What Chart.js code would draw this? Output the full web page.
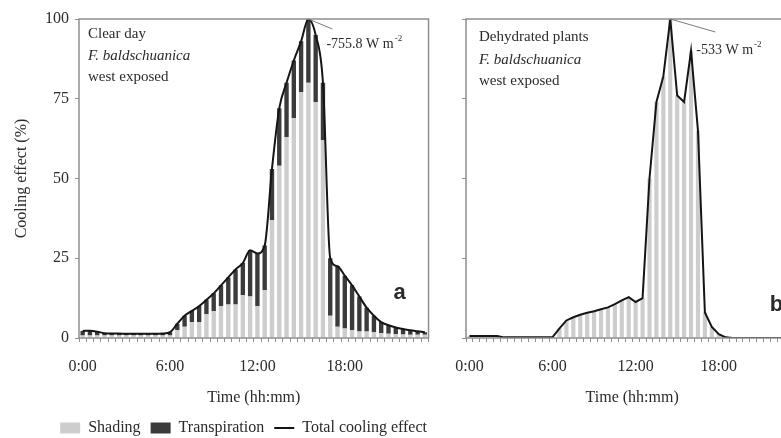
<!DOCTYPE html>
<html>
<head>
<meta charset="utf-8">
<title>Cooling effect</title>
<script src="https://cdn.jsdelivr.net/npm/chart.js@4.4.1/dist/chart.umd.min.js"></script>
<style>
  html, body { margin: 0; padding: 0; background: #fff; }
  #wrap { position: relative; width: 781px; height: 438px; overflow: hidden; }
  canvas { position: absolute; top: 0; }
  #panelA { left: 0; }
  #panelB { left: 440px; }
</style>
</head>
<body>
<div id="wrap">
  <canvas id="panelA" width="440" height="438"></canvas>
  <canvas id="panelB" width="370" height="438"></canvas>
</div>
<script>
// half-hour slots over one day
const timeSlots = [
    '0:00', '0:30', '1:00', '1:30', '2:00', '2:30', '3:00', '3:30', '4:00', '4:30', '5:00', '5:30',
    '6:00', '6:30', '7:00', '7:30', '8:00', '8:30', '9:00', '9:30', '10:00', '10:30', '11:00', '11:30',
    '12:00', '12:30', '13:00', '13:30', '14:00', '14:30', '15:00', '15:30', '16:00', '16:30', '17:00', '17:30',
    '18:00', '18:30', '19:00', '19:30', '20:00', '20:30', '21:00', '21:30', '22:00', '22:30', '23:00', '23:30',
];
const shownTimes = ['0:00', '6:00', '12:00', '18:00'];
const yTicks = [0, 25, 50, 75, 100];

// (a) clear day, values in % of the peak
const clearShading = [
    0.8, 0.8, 0.8, 0.8, 0.8, 0.8, 0.8, 0.8, 0.8, 0.8, 0.8, 0.8, 0.8,
    2.5, 3.5, 5, 5, 7.5, 8.5, 10, 10.5, 10.5, 13.5,
    13, 10, 15, 37, 54, 63, 69, 77, 80, 74,
    62, 7, 3.5, 3, 2.5, 2, 2, 1.8, 1.5, 1.3,
    1.2, 1.1, 1, 1, 1,
];
const clearTranspiration = [
    1.4, 1.5, 1.2, 0.7, 0.6, 0.6, 0.5, 0.5, 0.5, 0.5, 0.5, 0.6, 1.0,
    2.0, 3.5, 3.5, 5, 4.5, 5.5, 6.5, 8.5, 11, 10,
    14.5, 16.5, 14, 16, 18, 17, 18, 16, 20, 21,
    18, 18, 19, 16.5, 14, 11, 7.5, 5.2, 3.5, 2.7,
    2.1, 1.7, 1.4, 1.1, 0.8,
];
const clearTotal = [
    2.2, 2.3, 2.0, 1.5, 1.4, 1.4, 1.3, 1.3, 1.3, 1.3, 1.3, 1.4, 1.8,
    4.5, 7, 8.5, 10, 12, 14, 16.5, 19, 21.5, 23.5,
    27.5, 26.5, 29, 53, 72, 80, 87, 93, 100, 95,
    80, 25, 22.5, 19.5, 16.5, 13, 9.5, 7, 5, 4,
    3.3, 2.8, 2.4, 2.1, 1.8,
];

// (b) dehydrated plants: shading only
const dehydratedTotal = [
    0.6, 0.6, 0.6, 0.6, 0.6, 0.2, 0.2, 0.2, 0.2, 0.2, 0.2, 0.2, 0.3,
    3, 5.5, 6.5, 7.3, 7.9, 8.4, 9, 9.6, 10.6, 11.8,
    12.8, 11.3, 12.5, 50, 74, 82, 100, 76, 74, 90,
    65, 8, 3.5, 1.2, 0.2, 0, 0, 0, 0, 0,
    0, 0, 0, 0, 0,
];

const serif = '"Liberation Serif", "Times New Roman", serif';
const inkColor = '#2b2b2b';
const frameColor = '#8e8e8e';
const shadingColor = '#cdcdcd';
const transpirationColor = '#3b3b3b';

const framePlugin = {
    id: 'panelFrame',
    afterDraw(chart) {
        const { ctx, chartArea } = chart;
        ctx.save();
        ctx.strokeStyle = frameColor;
        ctx.lineWidth = 1.5;
        ctx.strokeRect(chartArea.left, chartArea.top, chartArea.right - chartArea.left, chartArea.bottom - chartArea.top);
        ctx.restore();
    },
};

// keeps the legend strip short so the plot area lines up with panel b
const legendHeight = {
    id: 'legendHeight',
    beforeInit(chart) {
        const fit = chart.legend.fit;
        chart.legend.fit = function fitShort() {
            fit.call(this);
            this.height = 28;
        };
    },
};

const notesPlugin = {
    id: 'panelNotes',
    afterDraw(chart, args, opts) {
        const { ctx, chartArea, scales } = chart;
        ctx.save();
        ctx.fillStyle = inkColor;
        ctx.textBaseline = 'middle';
        ctx.textAlign = 'left';
        opts.lines.forEach((line, i) => {
            ctx.font = `${line.italic ? 'italic ' : ''}15px ${serif}`;
            ctx.fillText(line.text, chartArea.left + opts.indent, opts.rows[i]);
        });

        // leader from the peak of the total line to its label
        const values = chart.data.datasets[opts.peakDataset].data;
        const peakIndex = values.indexOf(Math.max(...values));
        const px = scales.x.getPixelForValue(peakIndex);
        const py = scales.y.getPixelForValue(values[peakIndex]);
        ctx.strokeStyle = '#7a7a7a';
        ctx.lineWidth = 1;
        ctx.beginPath();
        ctx.moveTo(px, py);
        ctx.lineTo(px + opts.leader[0], py + opts.leader[1]);
        ctx.stroke();

        ctx.font = `14px ${serif}`;
        const tx = px + opts.labelOffset[0];
        ctx.fillText(opts.peakText, tx, opts.labelOffset[1]);
        const w = ctx.measureText(opts.peakText).width;
        ctx.font = `9px ${serif}`;
        ctx.fillText('-2', tx + w + 1, opts.labelOffset[1] - 5);

        ctx.font = 'bold 22px "Liberation Sans", Arial, sans-serif';
        ctx.textAlign = 'center';
        ctx.fillText(opts.letter, chartArea.right + opts.letterPos[0], opts.letterPos[1]);
        ctx.restore();
    },
};

function xAxis(height, titleBottom) {
    return {
        stacked: true,
        grid: { drawOnChartArea: false, tickLength: 4, color: frameColor },
        border: { display: false },
        ticks: {
            autoSkip: false,
            maxRotation: 0,
            padding: 15,
            color: inkColor,
            font: { family: serif, size: 16 },
            callback(value) {
                const label = this.getLabelForValue(value);
                return shownTimes.includes(label) ? label : '';
            },
        },
        title: {
            display: true,
            text: 'Time (hh:mm)',
            color: inkColor,
            font: { family: serif, size: 16 },
            padding: { top: 0, bottom: titleBottom },
        },
        afterFit(scale) {
            scale.height = height;
        },
    };
}

function yAxis(width, withLabels) {
    return {
        stacked: true,
        min: 0,
        max: 100,
        afterBuildTicks(scale) {
            scale.ticks = yTicks.map((v) => ({ value: v }));
        },
        grid: { drawOnChartArea: false, tickLength: 4, color: frameColor },
        border: { display: false },
        ticks: {
            display: withLabels,
            padding: 6,
            color: inkColor,
            font: { family: serif, size: 16 },
        },
        title: {
            display: withLabels,
            text: 'Cooling effect (%)',
            color: inkColor,
            font: { family: serif, size: 16 },
            padding: { top: 12, bottom: 0 },
        },
        afterFit(scale) {
            scale.width = width;
        },
    };
}

const barStyle = {
    barPercentage: 0.6,
    categoryPercentage: 1,
    borderWidth: 0,
    order: 2,
    pointStyle: 'rect',
};

new Chart(document.getElementById('panelA'), {
    type: 'bar',
    data: {
        labels: timeSlots,
        datasets: [
            { ...barStyle, label: 'Shading', data: clearShading, backgroundColor: shadingColor, borderColor: shadingColor, stack: 'bars' },
            { ...barStyle, label: 'Transpiration', data: clearTranspiration, backgroundColor: transpirationColor, borderColor: transpirationColor, stack: 'bars' },
            {
                type: 'line',
                label: 'Total cooling effect',
                data: clearTotal,
                stack: 'total',
                order: 1,
                borderColor: '#151515',
                borderWidth: 2,
                pointRadius: 0,
                pointStyle: 'line',
                cubicInterpolationMode: 'monotone',
                fill: false,
            },
        ],
    },
    options: {
        responsive: false,
        animation: false,
        devicePixelRatio: 1,
        layout: { padding: { top: 19, right: 3, left: 0, bottom: 0 } },
        scales: {
            x: xAxis(72, 3),
            y: yAxis(79, true),
            // empty strip on the right: lets the legend run a little past the frame
            spacer: {
                position: 'right',
                display: true,
                grid: { display: false },
                border: { display: false },
                ticks: { display: false },
                afterFit(scale) {
                    scale.width = 7;
                },
            },
        },
        plugins: {
            tooltip: { enabled: false },
            legend: {
                position: 'bottom',
                align: 'end',
                labels: {
                    usePointStyle: true,
                    pointStyleWidth: 20,
                    boxHeight: 11,
                    padding: 10,
                    color: inkColor,
                    font: { family: serif, size: 16 },
                    sort: (a, b) => a.datasetIndex - b.datasetIndex,
                },
            },
            panelNotes: {
                indent: 9,
                rows: [34, 56, 77],
                lines: [
                    { text: 'Clear day' },
                    { text: 'F. baldschuanica', italic: true },
                    { text: 'west exposed' },
                ],
                peakDataset: 2,
                leader: [24, 10],
                labelOffset: [18, 44],
                peakText: '-755.8 W m',
                letter: 'a',
                letterPos: [-29, 293],
            },
        },
    },
    plugins: [legendHeight, framePlugin, notesPlugin],
});

new Chart(document.getElementById('panelB'), {
    type: 'bar',
    data: {
        labels: timeSlots,
        datasets: [
            { ...barStyle, label: 'Shading', data: dehydratedTotal, backgroundColor: shadingColor, borderColor: shadingColor, stack: 'bars' },
            {
                type: 'line',
                label: 'Total cooling effect',
                data: dehydratedTotal,
                stack: 'total',
                order: 1,
                borderColor: '#151515',
                borderWidth: 2,
                pointRadius: 0,
                tension: 0,
                fill: false,
            },
        ],
    },
    options: {
        responsive: false,
        animation: false,
        devicePixelRatio: 1,
        layout: { padding: { top: 19, right: 11, left: 0, bottom: 0 } },
        scales: {
            x: xAxis(100, 31),
            y: yAxis(25, false),
        },
        plugins: {
            tooltip: { enabled: false },
            legend: { display: false },
            panelNotes: {
                indent: 13,
                rows: [37, 60, 81],
                lines: [
                    { text: 'Dehydrated plants' },
                    { text: 'F. baldschuanica', italic: true },
                    { text: 'west exposed' },
                ],
                peakDataset: 1,
                leader: [45, 13],
                labelOffset: [26, 50],
                peakText: '-533 W m',
                letter: 'b',
                letterPos: [-22, 305],
            },
        },
    },
    plugins: [framePlugin, notesPlugin],
});
</script>
</body>
</html>
